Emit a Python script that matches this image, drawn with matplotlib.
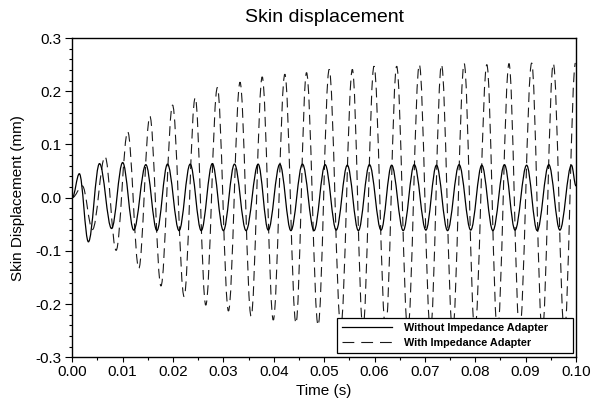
import matplotlib
matplotlib.use("Agg")
import matplotlib.pyplot as plt
from matplotlib.path import Path
from matplotlib.patches import PathPatch
from matplotlib.lines import Line2D
from matplotlib.ticker import MultipleLocator

plt.rcParams['font.family'] = ['Liberation Sans', 'DejaVu Sans']
plt.rcParams['axes.unicode_minus'] = False
plt.rcParams['lines.scale_dashes'] = False

# ---- data (extrema of each oscillation) ----
# Without Impedance Adapter (solid)
solid_start = (0.0, 0.0)
solid_peak_t = [0.0014, 0.0054, 0.0100, 0.0146, 0.0189, 0.0234, 0.0278, 0.0322,
                0.0369, 0.0412, 0.0457, 0.0502, 0.0546, 0.0590, 0.0634, 0.0679,
                0.0723, 0.0768, 0.0813, 0.0858, 0.0902, 0.0946, 0.0991]
solid_peak_v = [0.045, 0.064, 0.066, 0.062, 0.063, 0.063, 0.064, 0.063,
                0.063, 0.063, 0.063, 0.062, 0.061, 0.062, 0.061, 0.062,
                0.061, 0.062, 0.061, 0.062, 0.061, 0.062, 0.061]
solid_trough_t = [0.0032, 0.0078, 0.0122, 0.0168, 0.0212, 0.0256, 0.0300, 0.0345,
                  0.0389, 0.0434, 0.0480, 0.0524, 0.0568, 0.0613, 0.0657, 0.0702,
                  0.0745, 0.0791, 0.0835, 0.0879, 0.0923, 0.0968]
solid_trough_v = [-0.083, -0.058, -0.061, -0.062, -0.062, -0.062, -0.062, -0.062,
                  -0.061, -0.062, -0.062, -0.061, -0.062, -0.061, -0.062, -0.061,
                  -0.062, -0.061, -0.062, -0.061, -0.062, -0.061]
solid_end = (0.1, 0.022)

# With Impedance Adapter (dashed)
dashed_start = (0.0, 0.0)
dashed_peak_t = [0.0020, 0.0065, 0.0110, 0.0154, 0.0199, 0.0244, 0.0288, 0.0333,
                 0.0377, 0.0422, 0.0465, 0.0510, 0.0556, 0.0599, 0.0644, 0.0689,
                 0.0733, 0.0778, 0.0823, 0.0867, 0.0912, 0.0955, 0.0999]
dashed_peak_v = [0.022, 0.077, 0.124, 0.153, 0.174, 0.188, 0.207, 0.217,
                 0.227, 0.232, 0.235, 0.241, 0.241, 0.247, 0.247, 0.250,
                 0.250, 0.252, 0.250, 0.252, 0.253, 0.252, 0.253]
dashed_trough_t = [0.0040, 0.0087, 0.0132, 0.0176, 0.0222, 0.0265, 0.0310, 0.0355,
                   0.0399, 0.0444, 0.0488, 0.0533, 0.0577, 0.0622, 0.0666, 0.0711,
                   0.0755, 0.0799, 0.0844, 0.0888, 0.0933, 0.0977]
dashed_trough_v = [-0.060, -0.099, -0.133, -0.166, -0.186, -0.202, -0.213, -0.223,
                   -0.230, -0.236, -0.240, -0.243, -0.246, -0.248, -0.250, -0.251,
                   -0.252, -0.252, -0.253, -0.253, -0.254, -0.254]

labels = ["Without Impedance Adapter", "With Impedance Adapter"]
x_ticks = [0.00, 0.01, 0.02, 0.03, 0.04, 0.05, 0.06, 0.07, 0.08, 0.09, 0.10]
x_tick_labels = ["0.00", "0.01", "0.02", "0.03", "0.04", "0.05", "0.06", "0.07", "0.08", "0.09", "0.10"]
y_ticks = [-0.3, -0.2, -0.1, 0.0, 0.1, 0.2, 0.3]
y_tick_labels = ["-0.3", "-0.2", "-0.1", "0.0", "0.1", "0.2", "0.3"]


def extrema_sequence(start, pt, pv, tt, tv, end=None):
    pts = [start] + sorted(list(zip(pt, pv)) + list(zip(tt, tv)))
    if end is not None:
        pts.append(end)
    return pts


def smooth_path(pts, k=0.364):
    verts = [pts[0]]
    codes = [Path.MOVETO]
    for (t0, v0), (t1, v1) in zip(pts[:-1], pts[1:]):
        dt = t1 - t0
        verts += [(t0 + k * dt, v0), (t1 - k * dt, v1), (t1, v1)]
        codes += [Path.CURVE4] * 3
    return Path(verts, codes)


fig = plt.figure(figsize=(5.98, 4.04), dpi=100)
ax = fig.add_axes([0.1209, 0.1156, 0.8423, 0.7903])

solid_pts = extrema_sequence(solid_start, solid_peak_t, solid_peak_v,
                             solid_trough_t, solid_trough_v, solid_end)
dashed_pts = extrema_sequence(dashed_start, dashed_peak_t, dashed_peak_v,
                              dashed_trough_t, dashed_trough_v)

dash_pattern = (0, (7.0, 4.0))
ax.add_patch(PathPatch(smooth_path(dashed_pts), fill=False, edgecolor='#1a1a1a',
                       linewidth=0.8, linestyle=dash_pattern, transform=ax.transData))
ax.add_patch(PathPatch(smooth_path(solid_pts), fill=False, edgecolor='black',
                       linewidth=0.9, transform=ax.transData))

ax.set_xlim(0, 0.1)
ax.set_ylim(-0.3, 0.3)
ax.set_xticks(x_ticks)
ax.set_xticklabels(x_tick_labels)
ax.set_yticks(y_ticks)
ax.set_yticklabels(y_tick_labels)
ax.xaxis.set_minor_locator(MultipleLocator(0.005))
ax.yaxis.set_minor_locator(MultipleLocator(0.02))
ax.tick_params(axis='x', which='major', direction='out', length=3.3, width=0.8,
               labelsize=11, pad=2.3, top=False)
ax.tick_params(axis='x', which='minor', direction='out', length=2.0, width=0.8, top=False)
ax.tick_params(axis='y', which='major', direction='out', length=5.0, width=0.8,
               labelsize=11, pad=2.6, right=False)
ax.tick_params(axis='y', which='minor', direction='out', length=2.5, width=0.8, right=False)
for s in ax.spines.values():
    s.set_linewidth(1.0)
    s.set_color('black')

ax.set_title("Skin displacement", fontsize=14, pad=11.7)
ax.set_xlabel("Time (s)", fontsize=11)
ax.set_ylabel("Skin Displacement (mm)", fontsize=11)
ax.xaxis.set_label_coords(0.5, -0.085)
ax.yaxis.set_label_coords(-0.094, 0.5)

handles = [Line2D([], [], color='black', linewidth=0.9),
           Line2D([], [], color='#1a1a1a', linewidth=0.8, linestyle=(0, (8.5, 5.0)))]
leg = ax.legend(handles, labels, loc='lower left',
                bbox_to_anchor=(0.5250, 0.0125, 0.4690, 0.1200), mode='expand',
                prop={'size': 7.8, 'weight': 'bold'}, frameon=True, fancybox=False,
                shadow=False, borderpad=0.5, handlelength=4.6, handletextpad=1.15,
                labelspacing=0.45, borderaxespad=0.0)
leg.get_frame().set_edgecolor('black')
leg.get_frame().set_linewidth(0.9)
leg.get_frame().set_alpha(1.0)

fig.savefig("out.png", dpi=100)
